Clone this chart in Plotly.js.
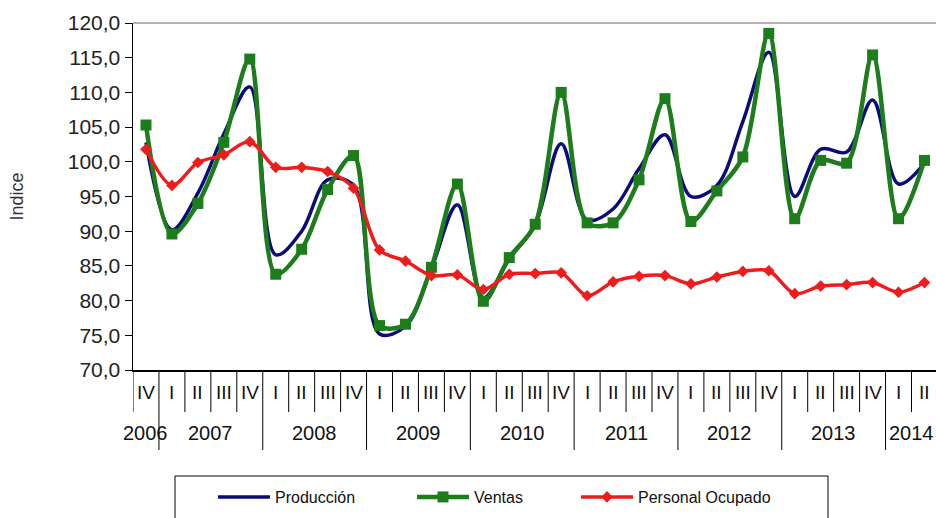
<!DOCTYPE html>
<html><head><meta charset="utf-8">
<script src="https://cdn.plot.ly/plotly-3.0.1.min.js"></script>
<style>html,body{margin:0;padding:0;background:#fff}#chart{width:936px;height:518px}</style>
</head><body><div id="chart"></div>
<script>
const years = ["2006","2007","2008","2009","2010","2011","2012","2013","2014"];
const yearQuarters = [
  ["IV"],
  ["I","II","III","IV"],["I","II","III","IV"],["I","II","III","IV"],["I","II","III","IV"],
  ["I","II","III","IV"],["I","II","III","IV"],["I","II","III","IV"],
  ["I","II"]
];
const produccion = [102.8, 90.2, 95.5, 104.0, 110.8, 86.6, 90.0, 97.4, 96.6, 75.2, 76.3, 84.6, 93.8, 80.4, 86.0, 91.0,
  102.6, 91.6, 93.2, 99.0, 103.9, 95.0, 96.6, 105.8, 115.8, 95.0, 101.8, 101.4, 108.9, 96.8, 99.8];
const ventas = [105.3, 89.6, 94.0, 102.8, 114.8, 83.8, 87.4, 96.0, 100.9, 76.4, 76.6, 84.8, 96.8, 79.9, 86.2, 91.0,
  110.0, 91.2, 91.2, 97.4, 109.1, 91.4, 95.8, 100.7, 118.5, 91.8, 100.2, 99.8, 115.4, 91.8, 100.2];
const personal = [101.8, 96.6, 99.9, 101.0, 102.9, 99.2, 99.2, 98.6, 96.2, 87.3, 85.7, 83.6, 83.7, 81.6, 83.8, 83.9,
  84.0, 80.7, 82.7, 83.5, 83.6, 82.4, 83.4, 84.2, 84.3, 81.0, 82.1, 82.3, 82.6, 81.2, 82.6];
const yTicks = [70,75,80,85,90,95,100,105,110,115,120];

// derived category arrays
const periods = [], quarterLabels = [], yearStart = [], yearCount = [];
years.forEach((y, yi) => {
  yearStart.push(periods.length);
  yearCount.push(yearQuarters[yi].length);
  yearQuarters[yi].forEach(q => { periods.push(y + "-" + q); quarterLabels.push(q); });
});

const NARROW = "Liberation Sans Narrow, Arial Narrow, Liberation Sans, Arial, sans-serif";
const SANS = "Liberation Sans, Arial, sans-serif";

const traces = [
  {x: periods, y: produccion, name: "Producción", type: "scatter", mode: "lines",
   line: {color: "#0c0c78", width: 3.5, shape: "spline", smoothing: 1}, legend: "legend"},
  {x: periods, y: ventas, name: "Ventas", type: "scatter", mode: "lines+markers",
   line: {color: "#1d7d1d", width: 4.5, shape: "spline", smoothing: 0.9},
   marker: {symbol: "square", size: 11, color: "#1d7d1d"}, legend: "legend2"},
  {x: periods, y: personal, name: "Personal Ocupado", type: "scatter", mode: "lines+markers",
   line: {color: "#ee1c1c", width: 3.5, shape: "spline", smoothing: 0.9},
   marker: {symbol: "diamond", size: 9, color: "#ee1c1c"}, legend: "legend3"}
];

const plotL = 133, plotT = 23, plotB = 370, W = 936, H = 518;
const pw = W - plotL, ph = plotB - plotT;
const px2paperX = p => (p - plotL) / pw;
const px2paperY = p => (plotB - p) / ph;

const shapes = [];
const annotations = [];
// top border
shapes.push({type: "line", xref: "paper", yref: "paper", x0: 0, x1: 1, y0: 1, y1: 1,
  line: {color: "#9a9a9a", width: 1.5}});
// quarter separators (short) and year separators (long)
const yearBoundaries = new Set(yearStart.slice(1));
for (let k = 0; k < periods.length; k++) {
  const long = yearBoundaries.has(k);
  shapes.push({type: "line", xref: "x", yref: "paper", x0: k - 0.5, x1: k - 0.5,
    y0: 0, y1: px2paperY(long ? 450 : 412), line: {color: "#000", width: 1}});
}
// legend frame
shapes.push({type: "rect", xref: "paper", yref: "paper",
  x0: px2paperX(175), x1: px2paperX(828), y0: px2paperY(476), y1: px2paperY(540),
  line: {color: "#000", width: 1}, fillcolor: "rgba(0,0,0,0)"});

quarterLabels.forEach((q, i) => {
  annotations.push({x: i, xref: "x", y: px2paperY(392), yref: "paper", text: q, showarrow: false,
    xanchor: "center", yanchor: "middle", font: {family: NARROW, size: 19, color: "#111"}});
});
years.forEach((y, yi) => {
  annotations.push({x: yearStart[yi] + (yearCount[yi] - 1) / 2, xref: "x", y: px2paperY(433), yref: "paper",
    text: y, showarrow: false, xanchor: "center", yanchor: "middle",
    font: {family: NARROW, size: 20, color: "#111"}});
});

const legendBase = {orientation: "h", xanchor: "left", yanchor: "middle", y: px2paperY(497),
  bgcolor: "rgba(0,0,0,0)", borderwidth: 0, font: {family: SANS, size: 16, color: "#111"}, itemwidth: 52};

const layout = {
  width: W, height: H,
  margin: {l: plotL, r: 0, t: plotT, b: H - plotB, pad: 0},
  paper_bgcolor: "#fff", plot_bgcolor: "#fff",
  showlegend: true,
  legend: Object.assign({}, legendBase, {x: px2paperX(213)}),
  legend2: Object.assign({}, legendBase, {x: px2paperX(412)}),
  legend3: Object.assign({}, legendBase, {x: px2paperX(576)}),
  xaxis: {type: "category", range: [-0.5, -0.5 + pw / 25.95], showgrid: false, zeroline: false,
    showline: true, linecolor: "#000", linewidth: 1.5, ticks: "", showticklabels: false, fixedrange: true},
  yaxis: {range: [70, 120], tickvals: yTicks, ticktext: yTicks.map(v => v.toFixed(1).replace(".", ",")),
    showgrid: false, zeroline: false, showline: true, linecolor: "#000", linewidth: 1.5,
    ticks: "outside", ticklen: 7, tickcolor: "#000", tickwidth: 1,
    tickfont: {family: NARROW, size: 21, color: "#222"},
    title: {text: "Indice", font: {family: NARROW, size: 18, color: "#333"}, standoff: 39}},
  shapes: shapes, annotations: annotations
};

Plotly.newPlot("chart", traces, layout, {displayModeBar: false, staticPlot: true});
</script></body></html>
